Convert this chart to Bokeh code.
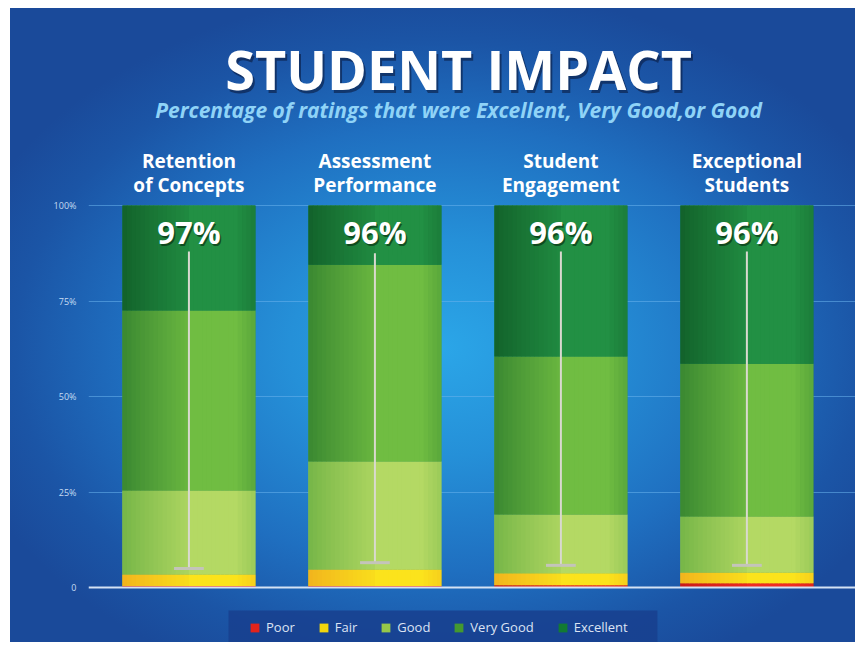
import numpy as np
from bokeh.plotting import figure
from bokeh.models import Range1d, FixedTicker, Span, Legend, LegendItem, ColumnDataSource, Label, BoxAnnotation
from bokeh.core.properties import value
from bokeh.embed import file_html
from bokeh.resources import INLINE

# ---------------- data ----------------
categories = ["Retention\nof Concepts", "Assessment\nPerformance",
              "Student\nEngagement", "Exceptional\nStudents"]
series = ["Poor", "Fair", "Good", "Very Good", "Excellent"]
poor = [0.4, 0.4, 0.6, 1.1]
fair = [3.0, 4.3, 3.1, 2.8]
good = [22.0, 28.3, 15.4, 14.7]
very_good = [47.1, 51.5, 41.4, 40.0]
excellent = [27.5, 15.5, 39.5, 41.4]
top_labels = ["97%", "96%", "96%", "96%"]
whisker_low = [5.0, 6.5, 5.8, 5.8]
whisker_high = [88.0, 87.5, 88.0, 88.0]
y_ticks = [0, 25, 50, 75, 100]
y_tick_labels = ["0", "25%", "50%", "75%", "100%"]

legend_colors = ["#e2231c", "#f2d60e", "#96c84a", "#44992f", "#127a32"]
shade_left = ["#c81a18", "#f2b41e", "#76b648", "#3a8832", "#13622b"]
shade_right = ["#ef2c22", "#fbe31c", "#b4d964", "#70bd42", "#229044"]

# ---------------- layout ----------------
W, H = 845, 634
LEFT = 78
x0, x1 = -0.540, 3.584
y0, y1 = -14.4, 151.6
bar_w = 0.715
n = len(categories)
xs = list(range(n))
stack = [poor, fair, good, very_good, excellent]

src = ColumnDataSource(dict(
    x=xs, cat=categories, lab=top_labels,
    Poor=poor, Fair=fair, Good=good, **{"Very Good": very_good}, Excellent=excellent,
    wl=whisker_low, wh=whisker_high,
    cl=[i - 0.08 for i in xs], cr=[i + 0.08 for i in xs],
))

p = figure(width=W, height=H, x_range=Range1d(x0, x1), y_range=Range1d(y0, y1),
           output_backend="svg", toolbar_location=None,
           min_border=0, min_border_left=LEFT, margin=(8, 0, 0, 10))
p.outline_line_color = None
p.border_fill_alpha = 0
p.background_fill_alpha = 0
p.styles = {"background": "radial-gradient(ellipse 500px 360px at 430px 340px, "
                          "#2ba6e8 0%, #2590d8 30%, #1f6fc0 62%, #1b55a6 85%, #1a4a9a 100%)"}

# axes / grid
p.xaxis.visible = False
p.xgrid.visible = False
p.yaxis.ticker = FixedTicker(ticks=y_ticks)
p.yaxis.major_label_overrides = {t_: l for t_, l in zip(y_ticks, y_tick_labels)}
p.yaxis.axis_line_color = None
p.yaxis.major_tick_line_color = None
p.yaxis.minor_tick_line_color = None
p.yaxis.major_label_text_color = "#c6dcf2"
p.yaxis.major_label_text_font = "Open Sans"
p.yaxis.major_label_text_font_size = "9px"
p.yaxis.major_label_standoff = 6
p.ygrid.ticker = FixedTicker(ticks=y_ticks[1:])
p.ygrid.grid_line_color = "#6ab2ec"
p.ygrid.grid_line_alpha = 0.55
p.ygrid.grid_line_width = 1
p.add_layout(Span(location=0, dimension="width", line_color="#d4e2f4", line_width=2))

# stacked bars (base colours, used by the legend)
rs = p.vbar_stack(series, x="x", width=bar_w, color=legend_colors, line_color=None, source=src)


# cylinder-like shading: each segment redrawn as thin strips
def hex2rgb(h):
    return np.array([int(h[i:i + 2], 16) for i in (1, 3, 5)], dtype=float)


def profile(s):
    if s < 0.5:
        return 0.88 * (s / 0.5) ** 0.9
    if s < 0.85:
        return 1.0
    return 1.0 - 0.4 * (s - 0.85) / 0.15


NS = 30
ql, qr, qb, qt, qc = [], [], [], [], []
for bi, xi in enumerate(xs):
    base = 0.0
    for si, vals in enumerate(stack):
        v = vals[bi]
        cl_, cr_ = hex2rgb(shade_left[si]), hex2rgb(shade_right[si])
        for k in range(NS):
            s = (k + 0.5) / NS
            m = profile(s)
            c = np.clip(cl_ * (1 - m) + cr_ * m, 0, 255).astype(int)
            left = xi - bar_w / 2 + k * bar_w / NS
            ql.append(left)
            qr.append(min(left + bar_w / NS * 1.15, xi + bar_w / 2))
            qb.append(base)
            qt.append(base + v)
            qc.append("#%02x%02x%02x" % tuple(c))
        base += v
p.quad(left=ql, right=qr, bottom=qb, top=qt, fill_color=qc, line_color=None)

# whiskers
p.segment(x0="x", y0="wl", x1="x", y1="wh", line_color="#d9d9cf", line_width=2, source=src)
p.segment(x0="cl", y0="wl", x1="cr", y1="wl", line_color="#c4c4ba", line_width=3, source=src)

# category labels
p.text(x="x", y=108.5, text="cat", source=src, text_color="white",
       text_font=value("Open Sans"), text_font_style="bold", text_font_size="19px",
       text_align="center", text_baseline="middle", text_line_height=0.95)

# percentage labels (with shadow)
for col, alpha, dx, dy in [("#06260c", 0.6, 1.5, 2), ("white", 1.0, 0, 0)]:
    p.text(x="x", y=93.2, text="lab", source=src, text_color=col, text_alpha=alpha,
           x_offset=dx, y_offset=dy, text_font=value("Open Sans"), text_font_style="bold",
           text_font_size="31px", text_align="center", text_baseline="middle")

# title & subtitle
for col, alpha, dx, dy in [("#0a1a40", 0.6, 2, -3), ("white", 1.0, 0, 0)]:
    p.add_layout(Label(x=1.45, y=135.8, text="STUDENT IMPACT", text_color=col, text_alpha=alpha,
                       x_offset=dx, y_offset=dy, text_font="Open Sans", text_font_style="bold",
                       text_font_size="54px", text_align="center", text_baseline="middle"))
p.add_layout(Label(x=1.45, y=124.9, text="Percentage of ratings that were Excellent, Very Good,or Good",
                   text_color="#8fd3f7", text_font="Open Sans", text_font_style="bold italic",
                   text_font_size="21px", text_align="center", text_baseline="middle"))

# legend panel + legend
p.add_layout(BoxAnnotation(left=0.213, right=2.519, top=-6.0, fill_color="#173f8e",
                           fill_alpha=0.85, line_color=None, level="underlay"))
legend = Legend(items=[LegendItem(label=s, renderers=[r]) for s, r in zip(series, rs)],
                orientation="horizontal", location=(161, 6),
                background_fill_alpha=0, border_line_color=None,
                label_text_color="#dce3f3",
                label_text_font="Open Sans", label_text_font_size="13px",
                glyph_width=11, glyph_height=11, spacing=23, label_standoff=6,
                padding=9, margin=0)
p.add_layout(legend)

open("out.html", "w").write(file_html(p, INLINE))
